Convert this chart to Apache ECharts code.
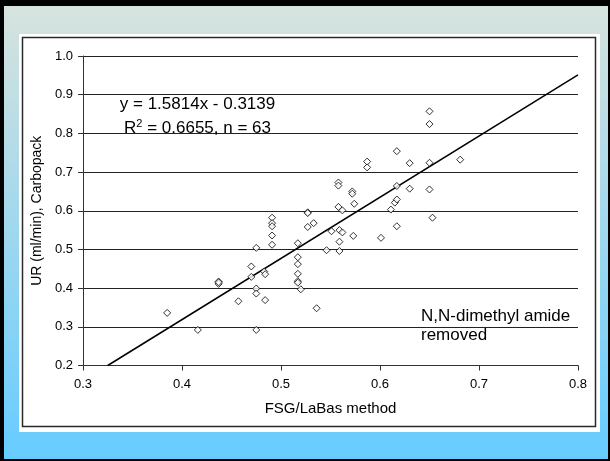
<!DOCTYPE html>
<html>
<head>
<meta charset="utf-8">
<title>UR vs FSG/LaBas</title>
<script src="https://cdn.jsdelivr.net/npm/echarts@6/dist/echarts.min.js"></script>
<style>
  html, body { margin: 0; padding: 0; background: #000; }
  #chart { width: 610px; height: 461px; }
</style>
</head>
<body>
<div id="chart"></div>
<script>
// FSG/LaBas method uptake rates (x) against Carbopack uptake rates (y), ml/min
const fsgLabas = [
  0.385, 0.416, 0.437, 0.437, 0.457, 0.470, 0.470, 0.475, 0.475, 0.475,
  0.475, 0.483, 0.484, 0.484, 0.491, 0.491, 0.491, 0.491, 0.491, 0.517,
  0.517, 0.517, 0.517, 0.517, 0.517, 0.520, 0.527, 0.527, 0.527, 0.533,
  0.536, 0.546, 0.551, 0.558, 0.558, 0.558, 0.559, 0.559, 0.559, 0.562,
  0.562, 0.572, 0.572, 0.573, 0.574, 0.587, 0.587, 0.601, 0.611, 0.615,
  0.617, 0.617, 0.617, 0.617, 0.630, 0.630, 0.650, 0.650, 0.650, 0.650,
  0.653, 0.681, 0.437
];
const carbopack = [
  0.336, 0.292, 0.417, 0.411, 0.366, 0.456, 0.429, 0.504, 0.399, 0.386,
  0.292, 0.443, 0.436, 0.369, 0.582, 0.568, 0.560, 0.536, 0.512, 0.516,
  0.480, 0.462, 0.437, 0.418, 0.414, 0.397, 0.596, 0.594, 0.558, 0.568,
  0.348, 0.498, 0.547, 0.673, 0.665, 0.610, 0.550, 0.520, 0.496, 0.601,
  0.544, 0.650, 0.644, 0.535, 0.618, 0.727, 0.712, 0.530, 0.603, 0.621,
  0.754, 0.664, 0.629, 0.560, 0.723, 0.657, 0.857, 0.824, 0.724, 0.655,
  0.582, 0.732, 0.415
];

// Regression reported on the chart
const slope = 1.5814;
const intercept = -0.3139;
const equationText = 'y = 1.5814x - 0.3139';
const r2Text = ' = 0.6655, n = 63';
const noteLines = ['N,N-dimethyl amide', 'removed'];

// Axis ranges and titles
const xMin = 0.3, xMax = 0.8, xStep = 0.1;
const yMin = 0.2, yMax = 1.0, yStep = 0.1;
const xTitle = 'FSG/LaBas method';
const yTitle = 'UR (ml/min), Carbopack';

const points = fsgLabas.map((x, i) => [x, carbopack[i]]);
const xStart = (yMin - intercept) / slope;
const trend = [[xStart, slope * xStart + intercept], [xMax, slope * xMax + intercept]];

const FONT = 'Liberation Sans, Arial, sans-serif';
const chart = echarts.init(document.getElementById('chart'), null, { renderer: 'canvas' });

chart.setOption({
  backgroundColor: 'transparent',
  animation: false,
  textStyle: { fontFamily: FONT },
  graphic: [
    // slide frame
    { type: 'rect', z: -10, silent: true, shape: { x: 0, y: 0, width: 610, height: 461 }, style: { fill: '#000' } },
    {
      type: 'rect', z: -9, silent: true,
      shape: { x: 4, y: 6, width: 604, height: 453 },
      style: {
        fill: new echarts.graphic.LinearGradient(0, 0, 0, 1, [
          { offset: 0, color: '#d7e3dd' },
          { offset: 1, color: '#66ccff' }
        ])
      }
    },
    { type: 'rect', z: -8, silent: true, shape: { x: 19, y: 34, width: 581, height: 398 }, style: { fill: '#fff' } },
    {
      type: 'rect', z: -7, silent: true,
      shape: { x: 22.5, y: 37.5, width: 573, height: 389 },
      style: { fill: '#fff', stroke: '#2a2a2a', lineWidth: 1.5 }
    },
    // regression annotation
    {
      type: 'text', z: 10, silent: true,
      style: {
        x: 197.5, y: 104, text: equationText, align: 'center', verticalAlign: 'middle',
        fontFamily: FONT, fontSize: 17, fill: '#000'
      }
    },
    {
      type: 'text', z: 10, silent: true,
      style: {
        x: 197.5, y: 128, align: 'center', verticalAlign: 'middle',
        text: '{a|R}{s|2}{a|' + r2Text + '}',
        fontFamily: FONT, fill: '#000',
        rich: {
          a: { fontFamily: FONT, fontSize: 17, lineHeight: 20, fill: '#000' },
          s: { fontFamily: FONT, fontSize: 11, lineHeight: 20, verticalAlign: 'top', fill: '#000' }
        }
      }
    },
    {
      type: 'text', z: 10, silent: true,
      style: {
        x: 421, y: 307, text: noteLines.join('\n'), align: 'left', verticalAlign: 'top',
        fontFamily: FONT, fontSize: 17, lineHeight: 19, fill: '#000'
      }
    }
  ],
  grid: { left: 83, right: 32, top: 56, bottom: 95.5, containLabel: false },
  xAxis: {
    type: 'value', min: xMin, max: xMax, interval: xStep,
    name: xTitle, nameLocation: 'middle', nameGap: 36,
    nameTextStyle: { fontFamily: FONT, fontSize: 15, color: '#000' },
    axisLine: { show: true, onZero: false, lineStyle: { color: '#333', width: 1 } },
    axisTick: { show: true, inside: false, length: 5, lineStyle: { color: '#333' } },
    axisLabel: { fontFamily: FONT, fontSize: 13, color: '#000', margin: 12, formatter: v => v.toFixed(1) },
    splitLine: { show: false }
  },
  yAxis: {
    type: 'value', min: yMin, max: yMax, interval: yStep,
    name: yTitle, nameLocation: 'middle', nameGap: 31,
    nameTextStyle: { fontFamily: FONT, fontSize: 14, color: '#000' },
    axisLine: { show: true, onZero: false, lineStyle: { color: '#333', width: 1 } },
    axisTick: { show: true, inside: false, length: 5, lineStyle: { color: '#333' } },
    axisLabel: { fontFamily: FONT, fontSize: 13, color: '#000', margin: 10, formatter: v => v.toFixed(1) },
    splitLine: { show: true, lineStyle: { color: '#222', width: 1 } }
  },
  series: [
    {
      type: 'line', data: trend, symbol: 'none', silent: true, z: 3,
      lineStyle: { color: '#000', width: 1.5 }
    },
    {
      type: 'scatter', data: points, symbol: 'diamond', symbolSize: 7, z: 4,
      itemStyle: { color: '#fff', borderColor: '#000', borderWidth: 1 }
    }
  ]
});
</script>
</body>
</html>
